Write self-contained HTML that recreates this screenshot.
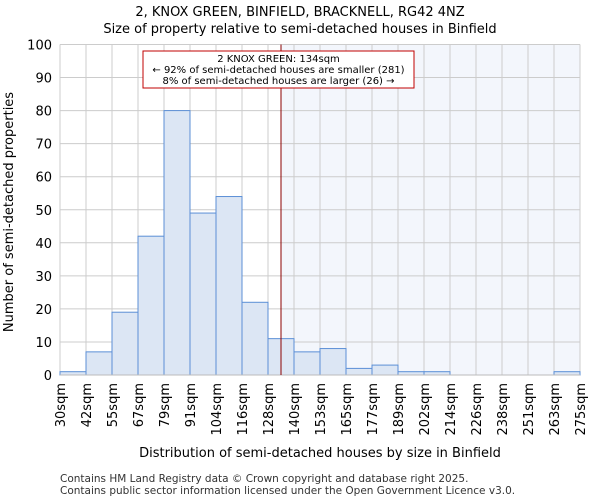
<!DOCTYPE html>
<html><head><meta charset="utf-8"><style>
body{margin:0;background:#fff}
svg{display:block;font-family:"DejaVu Sans","Liberation Sans",sans-serif}
</style></head><body>
<svg id="chart" width="600" height="500" viewBox="0 0 600 500">
<text x="300" y="16" text-anchor="middle" font-size="13">2, KNOX GREEN, BINFIELD, BRACKNELL, RG42 4NZ</text>
<text x="300" y="33" text-anchor="middle" font-size="13">Size of property relative to semi-detached houses in Binfield</text>
<g id="plot"></g>
<text x="320" y="457" text-anchor="middle" font-size="13">Distribution of semi-detached houses by size in Binfield</text>
<text transform="translate(13,212) rotate(-90)" text-anchor="middle" font-size="13">Number of semi-detached properties</text>
<text x="60" y="482" font-size="10.5" fill="#333">Contains HM Land Registry data © Crown copyright and database right 2025.</text>
<text x="60" y="494" font-size="10.5" fill="#333">Contains public sector information licensed under the Open Government Licence v3.0.</text>
</svg>
<script>
const binLabels=["30sqm","42sqm","55sqm","67sqm","79sqm","91sqm","104sqm","116sqm","128sqm","140sqm","153sqm","165sqm","177sqm","189sqm","202sqm","214sqm","226sqm","238sqm","251sqm","263sqm","275sqm"];
const counts=[1,7,19,42,80,49,54,22,11,7,8,2,3,1,1,0,0,0,0,1];
const yTicks=[0,10,20,30,40,50,60,70,80,90,100];
const markerBinPos=8.5;
const annotation=["2 KNOX GREEN: 134sqm","← 92% of semi-detached houses are smaller (281)","8% of semi-detached houses are larger (26) →"];

const NS="http://www.w3.org/2000/svg";
const g=document.getElementById('plot');
const X0=60,X1=580,Y0=375,Y1=44.5;
const nb=counts.length;
const xs=i=>X0+(X1-X0)*i/nb;
const ys=v=>Y0-(Y0-Y1)*v/100;
function mk(t,a,p){const e=document.createElementNS(NS,t);for(const k in a)e.setAttribute(k,a[k]);(p||g).appendChild(e);return e;}

const sh=mk('rect',{x:xs(markerBinPos),y:Y1,width:X1-xs(markerBinPos),height:Y0-Y1,fill:'#f3f6fc'});



yTicks.forEach(v=>{
  const l=mk('line',{x1:X0,x2:X1,y1:ys(v),y2:ys(v),stroke:'#cccccc','stroke-width':1});
  
  
  const t=mk('text',{x:X0-8,y:ys(v)+5,'text-anchor':'end','font-size':13});
  t.textContent=v;
  
  
});
binLabels.forEach((s,i)=>{
  const l=mk('line',{x1:xs(i),x2:xs(i),y1:Y1,y2:Y0,stroke:'#cccccc','stroke-width':1});
  
  
  const t=mk('text',{transform:`translate(${xs(i)+5},${Y0+8}) rotate(-90)`,'text-anchor':'end','font-size':13});
  t.textContent=s;
  
  
});
counts.forEach((c,i)=>{
  const r=mk('rect',{x:xs(i),y:ys(c),width:xs(i+1)-xs(i),height:Y0-ys(c),fill:'#dce6f4',stroke:'#5b8fd6','stroke-width':1});
  
  
});
const ax=mk('line',{x1:X0,x2:X1,y1:Y0,y2:Y0,stroke:'#bbbbbb','stroke-width':1});


const ml=mk('line',{x1:xs(markerBinPos),x2:xs(markerBinPos),y1:Y1,y2:Y0,stroke:'#8b0000','stroke-width':1});


const box=mk('rect',{x:143,y:51,width:271,height:37,fill:'#fff',stroke:'#c00000','stroke-width':1});


annotation.forEach((s,i)=>{
  const t=mk('text',{x:278.5,y:62+i*11,'text-anchor':'middle','font-size':10});
  t.textContent=s;
  
  
});
</script>
</body></html>
